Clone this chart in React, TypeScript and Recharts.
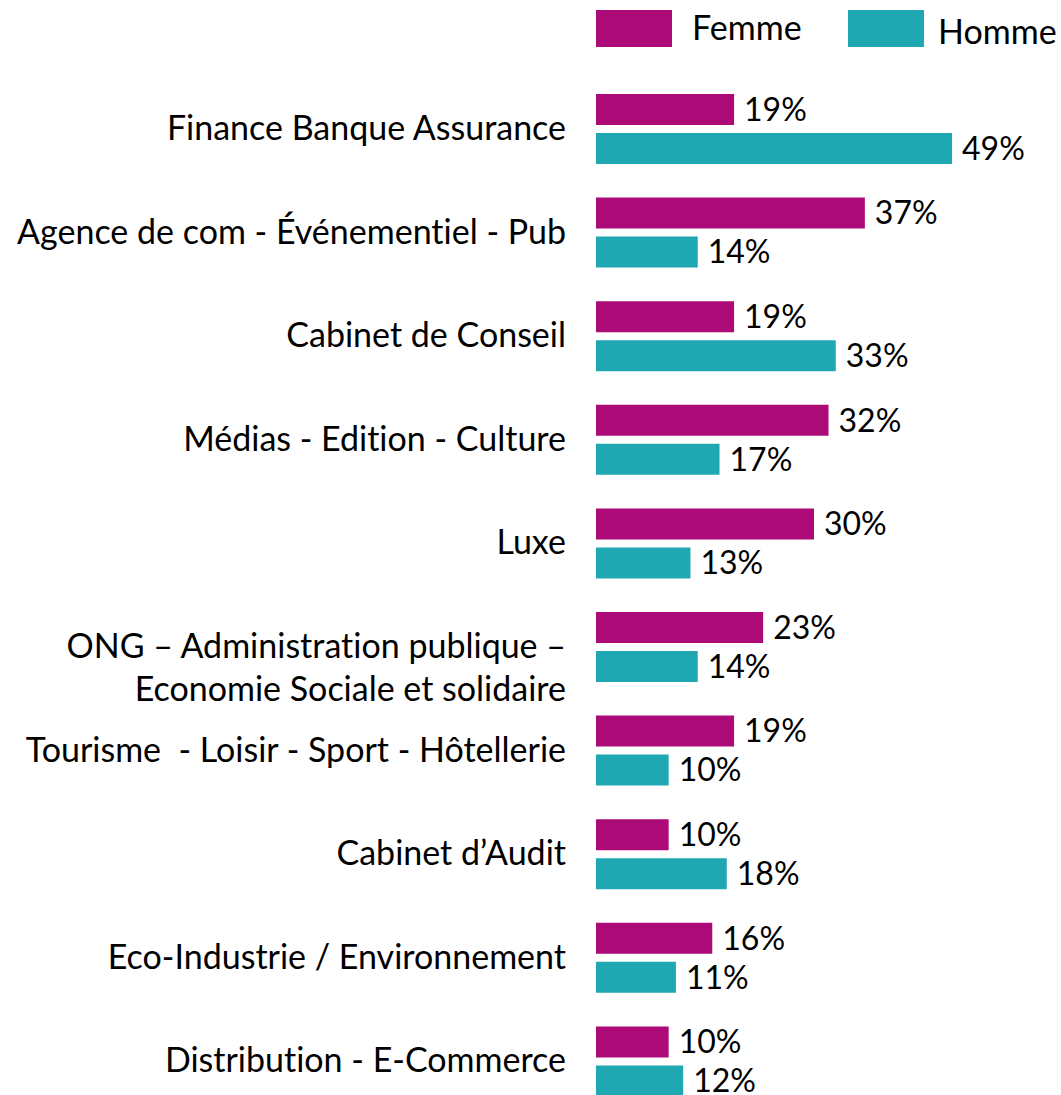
import { BarChart, Bar, XAxis, YAxis, Legend, LabelList } from 'recharts'

const SECTORS = [
  'Finance Banque Assurance',
  'Agence de com - Événementiel - Pub',
  'Cabinet de Conseil',
  'Médias - Edition - Culture',
  'Luxe',
  'ONG – Administration publique –\nEconomie Sociale et solidaire',
  'Tourisme  - Loisir - Sport - Hôtellerie',
  'Cabinet d’Audit',
  'Eco-Industrie / Environnement',
  'Distribution - E-Commerce',
]
const FEMME = [19, 37, 19, 32, 30, 23, 19, 10, 16, 10]
const HOMME = [49, 14, 33, 17, 13, 14, 10, 18, 11, 12]

const FEMME_COLOR = '#AC0A77'
const HOMME_COLOR = '#20A8B2'
const FONT = 'Lato, "Open Sans", sans-serif'

const data = SECTORS.map((sector, i) => ({ sector, femme: FEMME[i], homme: HOMME[i] }))

function SectorTick({ x, y, payload }: any) {
  const lines = String(payload.value).split('\n')
  return (
    <text
      x={x - 30}
      y={y}
      textAnchor="end"
      fontSize={34}
      fontFamily={FONT}
      fill="#000"
      style={{ whiteSpace: 'pre', fontVariantLigatures: 'none' }}
    >
      {lines.map((l, i) => (
        <tspan key={i} x={x - 30} dy={i === 0 ? '0.33em' : 43}>
          {l}
        </tspan>
      ))}
    </text>
  )
}

function LegendBox() {
  const item = (color: string, label: string, left: number, textLeft: number, top: number) => (
    <>
      <div style={{ position: 'absolute', left, top: 0, width: 76, height: 37, background: color }} />
      <div style={{ position: 'absolute', left: textLeft, top, fontSize: 34, fontFamily: FONT, color: '#000', lineHeight: '37px' }}>
        {label}
      </div>
    </>
  )
  return (
    <div style={{ position: 'relative', width: 465, height: 45 }}>
      {item(FEMME_COLOR, 'Femme', 0, 96, -2)}
      {item(HOMME_COLOR, 'Homme', 252, 342, 2)}
    </div>
  )
}

export default function App() {
  return (
    <div style={{ position: 'absolute', left: 0, top: 0, width: 1061, height: 1095, overflow: 'hidden', background: '#fff' }}>
      <BarChart
        width={1061}
        height={1113}
        data={data}
        layout="vertical"
        margin={{ top: 77, right: 29, bottom: 0, left: 0 }}
        barSize={31}
        barGap={8}
      >
        <XAxis type="number" domain={[0, 60]} hide />
        <YAxis
          type="category"
          dataKey="sector"
          width={596}
          interval={0}
          tickLine={false}
          axisLine={false}
          tickSize={0}
          tickMargin={0}
          tick={(props: any) => <SectorTick {...props} />}
        />
        <Legend
          verticalAlign="middle"
          align="center"
          layout="horizontal"
          wrapperStyle={{ left: 596, top: 10, width: 465, height: 45 }}
          content={() => <LegendBox />}
        />
        <Bar dataKey="femme" name="Femme" fill={FEMME_COLOR} isAnimationActive={false}>
          <LabelList dataKey="femme" position="right" offset={10} formatter={(v: any) => `${v}%`} fill="#000" fontSize={32} fontFamily={FONT} />
        </Bar>
        <Bar dataKey="homme" name="Homme" fill={HOMME_COLOR} isAnimationActive={false}>
          <LabelList dataKey="homme" position="right" offset={10} formatter={(v: any) => `${v}%`} fill="#000" fontSize={32} fontFamily={FONT} />
        </Bar>
      </BarChart>
    </div>
  )
}
